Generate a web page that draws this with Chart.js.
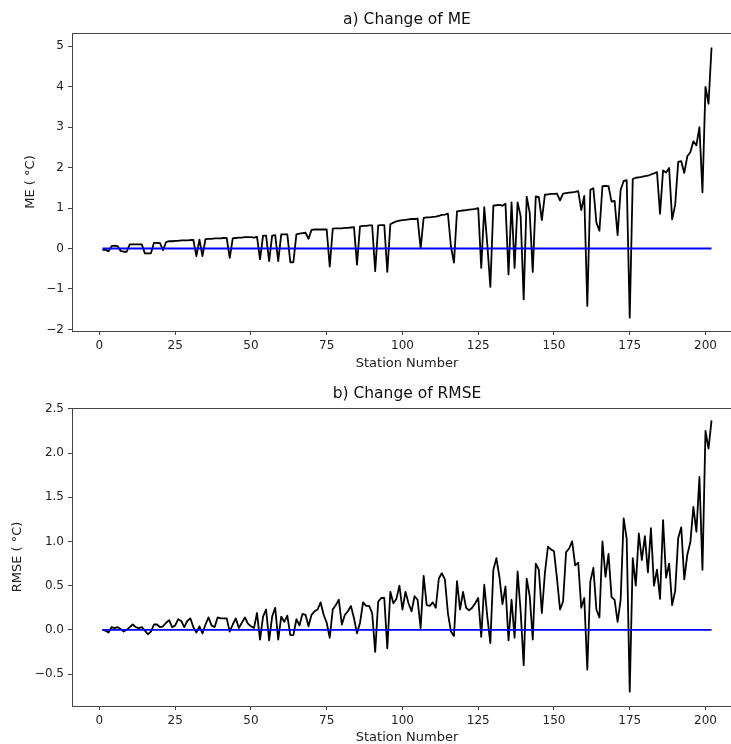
<!DOCTYPE html>
<html lang="en">
<head>
<meta charset="UTF-8">
<title>Change of ME and RMSE</title>
<script src="https://cdn.jsdelivr.net/npm/chart.js"></script>
<style>
  html, body { margin: 0; padding: 0; background: #fff; overflow: hidden; }
  #wrap { position: relative; width: 760px; height: 744px; }
  canvas { position: absolute; left: 0; }
  #meChart { top: 0; }
  #rmseChart { top: 376px; }
</style>
</head>
<body>
<div id="wrap">
  <canvas id="meChart" width="760" height="376"></canvas>
  <canvas id="rmseChart" width="760" height="380"></canvas>
</div>
<script>
// Change of ME per station (°C), stations 1..202
const meValues = [
  -0.03, -0.03, -0.07, 0.06, 0.07, 0.06, -0.06, -0.08, -0.08, 0.10,
  0.10, 0.10, 0.10, 0.10, -0.12, -0.12, -0.12, 0.14, 0.14, 0.13,
  -0.04, 0.16, 0.18, 0.18, 0.19, 0.19, 0.20, 0.20, 0.20, 0.21,
  0.21, -0.19, 0.22, -0.19, 0.23, 0.24, 0.24, 0.25, 0.25, 0.25,
  0.26, 0.26, -0.23, 0.25, 0.26, 0.27, 0.27, 0.28, 0.28, 0.28,
  0.27, 0.29, -0.27, 0.32, 0.32, -0.31, 0.32, 0.33, -0.31, 0.35,
  0.35, 0.35, -0.34, -0.34, 0.35, 0.37, 0.38, 0.39, 0.24, 0.46,
  0.47, 0.47, 0.47, 0.47, 0.47, -0.45, 0.49, 0.50, 0.50, 0.50,
  0.51, 0.51, 0.52, 0.53, -0.40, 0.55, 0.56, 0.56, 0.57, 0.57,
  -0.56, 0.57, 0.58, 0.58, -0.58, 0.60, 0.64, 0.67, 0.69, 0.70,
  0.71, 0.72, 0.73, 0.73, 0.74, 0.00, 0.76, 0.77, 0.77, 0.78,
  0.79, 0.81, 0.83, 0.84, 0.86, 0.05, -0.35, 0.92, 0.93, 0.94,
  0.95, 0.96, 0.97, 0.98, 1.00, -0.48, 1.02, 0.10, -0.95, 1.06,
  1.07, 1.08, 1.06, 1.11, -0.64, 1.14, -0.48, 1.14, 0.80, -1.26,
  1.28, 0.88, -0.58, 1.29, 1.27, 0.70, 1.33, 1.34, 1.35, 1.35,
  1.36, 1.19, 1.36, 1.37, 1.38, 1.39, 1.40, 1.42, 0.95, 1.30,
  -1.42, 1.45, 1.49, 0.64, 0.44, 1.54, 1.55, 1.54, 1.16, 1.18,
  0.33, 1.45, 1.67, 1.69, -1.71, 1.72, 1.75, 1.76, 1.77, 1.79,
  1.80, 1.83, 1.86, 1.89, 0.86, 1.93, 1.88, 1.99, 0.72, 1.08,
  2.14, 2.16, 1.87, 2.28, 2.38, 2.65, 2.55, 3.00, 1.39, 4.00,
  3.58, 4.97
];

// Change of RMSE per station (°C)
const rmseValues = [
  0.00, -0.01, -0.03, 0.03, 0.02, 0.03, 0.01, -0.02, 0.00, 0.03,
  0.06, 0.03, 0.02, 0.03, -0.01, -0.05, -0.02, 0.06, 0.06, 0.03,
  0.04, 0.08, 0.11, 0.03, 0.05, 0.12, 0.10, 0.03, 0.10, 0.13,
  0.03, -0.03, 0.04, -0.04, 0.06, 0.14, 0.05, 0.03, 0.14, 0.13,
  0.13, 0.13, -0.02, 0.06, 0.13, 0.02, 0.08, 0.14, 0.07, 0.04,
  0.02, 0.19, -0.11, 0.15, 0.23, -0.12, 0.15, 0.25, -0.11, 0.15,
  0.09, 0.16, -0.06, -0.06, 0.12, 0.05, 0.18, 0.17, 0.04, 0.17,
  0.21, 0.23, 0.31, 0.17, 0.08, -0.09, 0.23, 0.28, 0.34, 0.06,
  0.17, 0.21, 0.27, 0.13, -0.04, 0.08, 0.31, 0.27, 0.27, 0.19,
  -0.25, 0.32, 0.36, 0.36, -0.21, 0.43, 0.30, 0.35, 0.50, 0.23,
  0.43, 0.30, 0.21, 0.38, 0.34, 0.02, 0.61, 0.28, 0.27, 0.31,
  0.25, 0.58, 0.64, 0.57, 0.19, -0.02, -0.07, 0.55, 0.23, 0.43,
  0.25, 0.22, 0.25, 0.30, 0.36, -0.08, 0.51, 0.15, -0.15, 0.68,
  0.81, 0.60, 0.29, 0.49, -0.12, 0.34, -0.09, 0.66, 0.21, -0.40,
  0.58, 0.38, -0.11, 0.75, 0.68, 0.19, 0.64, 0.94, 0.91, 0.89,
  0.58, 0.23, 0.32, 0.88, 0.92, 1.00, 0.73, 0.76, 0.25, 0.36,
  -0.45, 0.55, 0.70, 0.23, 0.14, 1.00, 0.60, 0.86, 0.37, 0.34,
  0.09, 0.34, 1.26, 1.03, -0.70, 0.81, 0.50, 1.09, 0.79, 1.06,
  0.65, 1.15, 0.50, 0.68, 0.35, 1.24, 0.59, 0.75, 0.28, 0.44,
  1.04, 1.16, 0.57, 0.85, 0.99, 1.39, 1.11, 1.73, 0.68, 2.25,
  2.05, 2.37
];

// station numbers start at 1
const stations = meValues.map((_, i) => i + 1);
const zeroLine = 0;

const xTicks = [0, 25, 50, 75, 100, 125, 150, 175, 200];
const meTicks = [-2, -1, 0, 1, 2, 3, 4, 5];
const rmseTicks = [-0.5, 0.0, 0.5, 1.0, 1.5, 2.0, 2.5];

const FONT = '"DejaVu Sans", "Liberation Sans", sans-serif';

// draws the panel title and the full axes frame (matplotlib style)
const panelTitle = {
  id: 'panelTitle',
  afterDraw(chart, args, opts) {
    const { ctx, chartArea } = chart;
    ctx.save();
    ctx.strokeStyle = '#444';
    ctx.lineWidth = 1;
    ctx.strokeRect(chartArea.left + 0.5, chartArea.top + 0.5,
      chartArea.right - chartArea.left, chartArea.bottom - chartArea.top);
    ctx.font = '15.5px ' + FONT;
    ctx.fillStyle = '#111';
    ctx.textAlign = 'center';
    ctx.textBaseline = 'middle';
    ctx.fillText(opts.text, (chartArea.left + chartArea.right) / 2, opts.y);
    ctx.restore();
  }
};

function fmt(v, dec) {
  return v.toFixed(dec).replace('-', '\u2212');
}

function makeChart(id, cfg) {
  const ctx = document.getElementById(id).getContext('2d');
  return new Chart(ctx, {
    type: 'line',
    data: {
      datasets: [
        {
          label: 'zero',
          data: stations.map(s => ({ x: s, y: zeroLine })),
          borderColor: '#0000ff',
          borderWidth: 1.8,
          pointRadius: 0
        },
        {
          label: cfg.label,
          data: stations.map((s, i) => ({ x: s, y: cfg.values[i] })),
          borderColor: '#000',
          borderWidth: 1.8,
          borderJoinStyle: 'round',
          pointRadius: 0,
          tension: 0
        }
      ]
    },
    options: {
      responsive: false,
      animation: false,
      events: [],
      layout: { padding: { top: cfg.padTop, right: 18, left: 0, bottom: 0 } },
      plugins: {
        legend: { display: false },
        tooltip: { enabled: false },
        panelTitle: { text: cfg.title, y: cfg.titleY }
      },
      scales: {
        x: {
          type: 'linear',
          min: -9.05,
          max: 212.05,
          afterFit: s => { s.height = cfg.xAxisHeight; },
          afterBuildTicks: s => { s.ticks = xTicks.map(v => ({ value: v })); },
          grid: { drawOnChartArea: false, drawTicks: true, tickLength: 4, color: '#444' },
          border: { display: false },
          ticks: { font: { family: FONT, size: 12 }, color: '#222', padding: 4, maxRotation: 0,
            callback: v => String(v) },
          title: { display: true, text: 'Station Number', color: '#222',
            font: { family: FONT, size: 13 }, padding: { top: 0, bottom: cfg.xTitlePad } }
        },
        y: {
          min: cfg.yMin,
          max: cfg.yMax,
          afterFit: s => { s.width = 72; },
          afterBuildTicks: s => { s.ticks = cfg.ticks.map(v => ({ value: v })); },
          grid: { drawOnChartArea: false, drawTicks: true, tickLength: 4, color: '#444' },
          border: { display: false },
          ticks: { font: { family: FONT, size: 12 }, color: '#222', padding: 4,
            callback: v => fmt(v, cfg.dec) },
          title: { display: true, text: cfg.yLabel, color: '#222',
            font: { family: FONT, size: 13 }, padding: { top: cfg.yTitlePad, bottom: 0 } }
        }
      }
    },
    plugins: [panelTitle]
  });
}

makeChart('meChart', {
  label: 'ME', values: meValues, title: 'a) Change of ME', titleY: 20,
  padTop: 33, xAxisHeight: 45, xTitlePad: 4.2,
  yMin: -2.04, yMax: 5.33, ticks: meTicks, dec: 0,
  yLabel: 'ME ( °C)', yTitlePad: 23
});

makeChart('rmseChart', {
  label: 'RMSE', values: rmseValues, title: 'b) Change of RMSE', titleY: 18,
  padTop: 32, xAxisHeight: 50, xTitlePad: 10.2,
  yMin: -0.862, yMax: 2.51, ticks: rmseTicks, dec: 1,
  yLabel: 'RMSE ( °C)', yTitlePad: 10
});
</script>
</body>
</html>
